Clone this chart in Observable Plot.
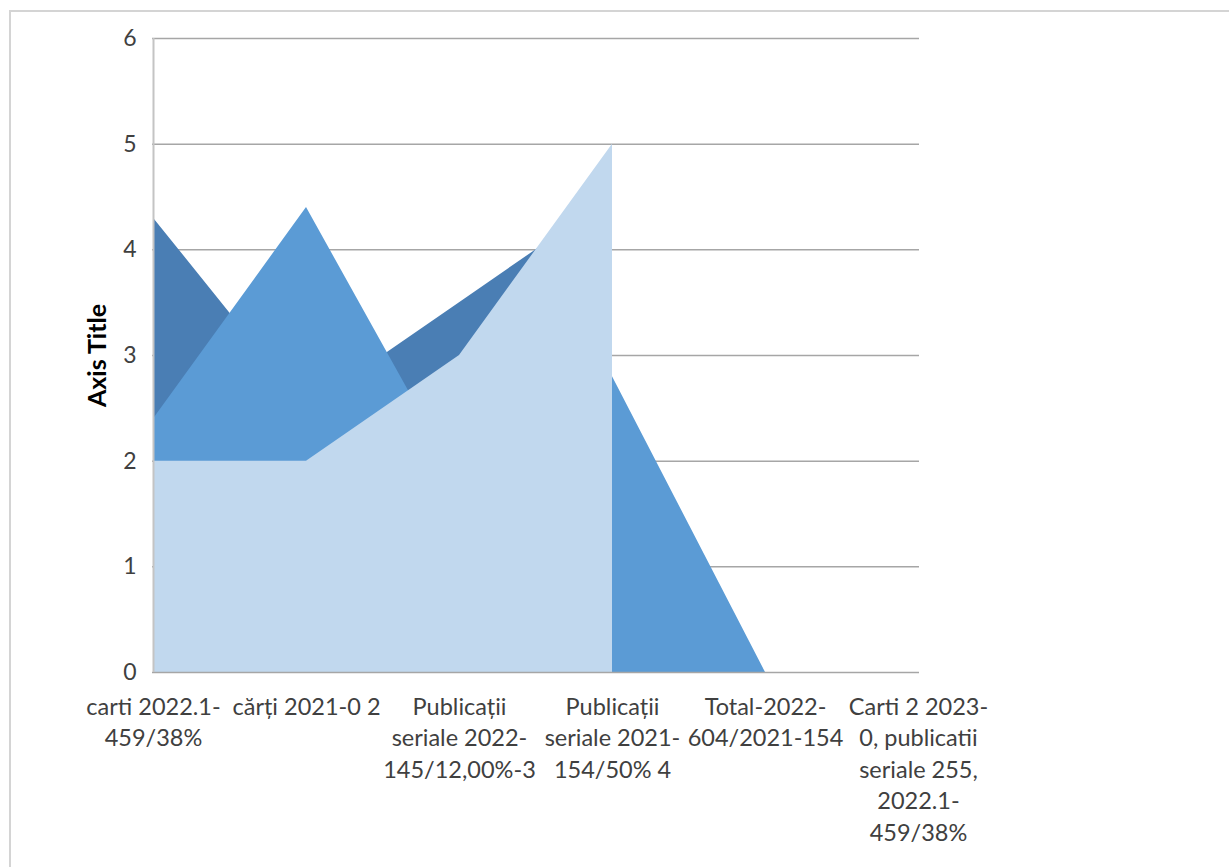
<!DOCTYPE html>
<html>
<head>
<meta charset="utf-8">
<script src="https://cdn.jsdelivr.net/npm/d3@7"></script>
<script src="https://cdn.jsdelivr.net/npm/@observablehq/plot@0.6"></script>
<style>
  html, body { margin: 0; padding: 0; background: #fff; overflow: hidden; width: 1229px; height: 867px; }
  #border { position: absolute; left: 9px; top: 10px; width: 1240px; height: 880px; border: 2px solid #d4d4d4; box-sizing: border-box; pointer-events: none; }
  #chart { position: absolute; left: 0; top: 0; }
</style>
</head>
<body>
<div id="chart"></div>
<div id="border"></div>
<script>
const categories = [
  "carti 2022.1-459/38%",
  "cărți 2021-0 2",
  "Publicații seriale 2022-145/12,00%-3",
  "Publicații seriale 2021-154/50% 4",
  "Total-2022-604/2021-154",
  "Carti 2 2023-0, publicatii seriale 255, 2022.1-459/38%"
];
const tickLabels = [
  "carti 2022.1-\n459/38%",
  "cărți 2021-0 2",
  "Publicații\nseriale 2022-\n145/12,00%-3",
  "Publicații\nseriale 2021-\n154/50% 4",
  "Total-2022-\n604/2021-154",
  "Carti 2 2023-\n0, publicatii\nseriale 255,\n2022.1-\n459/38%"
];
const series1 = [4.3, 2.5, 3.5, 4.5];
const series2 = [2.4, 4.4, 1.8, 2.8, 0, 0];
const series3 = [2, 2, 3, 5];
const yTicks = [0, 1, 2, 3, 4, 5, 6];
const colors = ["#4a7eb4", "#5b9bd5", "#c1d8ee"];

const toRows = (vals) => vals.map((v, i) => ({cat: categories[i], v}));
const labelOf = new Map(categories.map((c, i) => [c, tickLabels[i]]));

const font = "Lato, 'Open Sans', sans-serif";

const chart = Plot.plot({
  width: 1229,
  height: 867,
  marginLeft: 152,
  marginRight: 310,
  marginTop: 38,
  marginBottom: 195,
  style: {fontFamily: font, fontSize: "24px", color: "#404040", background: "transparent"},
  x: {type: "point", domain: categories, padding: 0},
  y: {domain: [0, 6]},
  marks: [
    Plot.gridY(yTicks.filter(d => d > 0), {stroke: "#a6a6a6", strokeOpacity: 1, strokeWidth: 1.5}),
    Plot.areaY(toRows(series1), {x: "cat", y: "v", fill: colors[0]}),
    Plot.areaY(toRows(series2), {x: "cat", y: "v", fill: colors[1]}),
    Plot.areaY(toRows(series3), {x: "cat", y: "v", fill: colors[2]}),
    Plot.ruleY([0], {stroke: "#a6a6a6", strokeWidth: 1.5}),
    Plot.ruleX([categories[0]], {stroke: "#c4c4c4", strokeWidth: 2}),
    Plot.axisY({ticks: yTicks, tickFormat: d3.format("d"), tickSize: 0, tickPadding: 16, fontSize: 23, fill: "#404040", label: null}),
    Plot.axisX({tickSize: 0, tickPadding: 20, tickFormat: d => labelOf.get(d), lineHeight: 1.34, fontSize: 23.5, fill: "#404040", label: null}),
    Plot.text(["Axis Title"], {
      frameAnchor: "left", dx: -55, rotate: -90, text: d => d,
      fontSize: 25, fontWeight: "bold", fill: "#000", textAnchor: "middle"
    })
  ]
});
document.getElementById("chart").appendChild(chart);
</script>
</body>
</html>
